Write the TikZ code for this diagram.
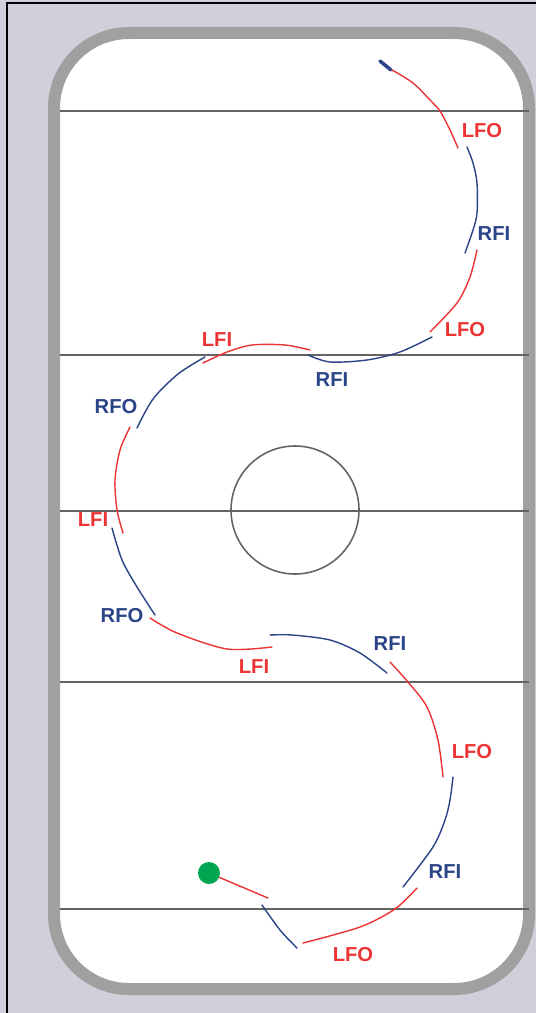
\documentclass[tikz,border=0pt]{standalone}
\usepackage{fontspec}
\setmainfont{Liberation Sans}
\definecolor{backdrop}{RGB}{207,208,217}
\definecolor{boardgray}{RGB}{160,160,160}
\definecolor{linegray}{RGB}{100,100,100}
\definecolor{leftred}{RGB}{236,52,52}
\definecolor{rightblue}{RGB}{42,68,135}
\definecolor{dotgreen}{RGB}{0,166,81}
\tikzset{
  boards/.style={line width=0.24cm, draw=boardgray, fill=white, rounded corners=1.5cm},
  rinkline/.style={line width=0.9pt, draw=linegray},
  leftedge/.style={line width=0.8pt, draw=leftred, line cap=round},
  rightedge/.style={line width=0.8pt, draw=rightblue, line cap=round},
  leftlabel/.style={text=leftred, font=\bfseries\fontsize{11.5}{12}\selectfont, inner sep=0pt},
  rightlabel/.style={text=rightblue, font=\bfseries\fontsize{11.5}{12}\selectfont, inner sep=0pt},
}

\begin{document}
\begin{tikzpicture}[x=0.02cm, y=-0.02cm]
\useasboundingbox (0,0) rectangle (536,1013);
\fill[backdrop] (0,0) rectangle (536,1013);
\draw[line width=0.04cm] (7,1013) -- (7,3) -- (536,3);
\draw[boards] (54,33) rectangle (529,989);
% lines across the rink
\draw[rinkline] (60,111) -- (529,111);
\draw[rinkline] (60,355) -- (529,355);
\draw[rinkline] (60,511) -- (529,511);
\draw[rinkline] (60,682) -- (529,682);
\draw[rinkline] (60,909) -- (529,909);
\draw[rinkline] (295,510) circle (64);
% the edges, top to bottom
\draw[rightedge, line width=2pt] (380,61) -- (391,70);
\draw[leftedge] plot[smooth] coordinates {(392,70) (413,83) (430,100) (440,111) (450,130) (458,148)};
\draw[rightedge] plot[smooth] coordinates {(467,147) (473,163) (477,183) (477,213) (473,230) (465,253)};
\draw[leftedge] plot[smooth] coordinates {(477,250) (470,277) (457,303) (430,332)};
\draw[rightedge] plot[smooth] coordinates {(432,337) (400,352) (367,360) (330,362) (308,355)};
\draw[leftedge] plot[smooth] coordinates {(310,350) (285,345) (252,345) (227,352) (203,363)};
\draw[rightedge] plot[smooth] coordinates {(205,357) (178,374) (153,399) (137,428)};
\draw[leftedge] plot[smooth] coordinates {(130,427) (120,450) (115,480) (117,510) (123,533)};
\draw[rightedge] plot[smooth] coordinates {(112,528) (122,560) (137,587) (155,615)};
\draw[leftedge] plot[smooth] coordinates {(150,618) (177,633) (227,649) (272,647)};
\draw[rightedge] plot[smooth] coordinates {(270,635) (292,635) (330,640) (360,653) (387,673)};
\draw[leftedge] plot[smooth] coordinates {(390,662) (408,682) (427,707) (438,740) (443,777)};
\draw[rightedge] plot[smooth] coordinates {(453,777) (450,800) (445,820) (433,847) (403,887)};
\draw[leftedge] plot[smooth] coordinates {(417,888) (395,909) (360,927) (303,943)};
\draw[rightedge] plot[smooth] coordinates {(262,905) (280,930) (297,948)};
% start spot
\node[circle, fill=dotgreen, minimum size=0.44cm, inner sep=0pt] (spot) at (209,873) {};
\coordinate (push) at (268,898);
\draw[leftedge] (spot) -- (push);
% labels
\node[leftlabel] (lfoa) at (482,131) {LFO};
\node[rightlabel] (rfia) at (494,234) {RFI};
\node[leftlabel] (lfob) at (465,330) {LFO};
\node[leftlabel] (lfia) at (217,340) {LFI};
\node[rightlabel] (rfib) at (332,380) {RFI};
\node[rightlabel] (rfoa) at (116,407) {RFO};
\node[leftlabel] (lfib) at (93,520) {LFI};
\node[rightlabel] (rfob) at (122,616) {RFO};
\node[leftlabel] (lfic) at (254,667) {LFI};
\node[rightlabel] (rfic) at (390,644) {RFI};
\node[leftlabel] (lfoc) at (472,752) {LFO};
\node[rightlabel] (rfid) at (445,872) {RFI};
\node[leftlabel] (lfod) at (353,955) {LFO};
\end{tikzpicture}
\end{document}
